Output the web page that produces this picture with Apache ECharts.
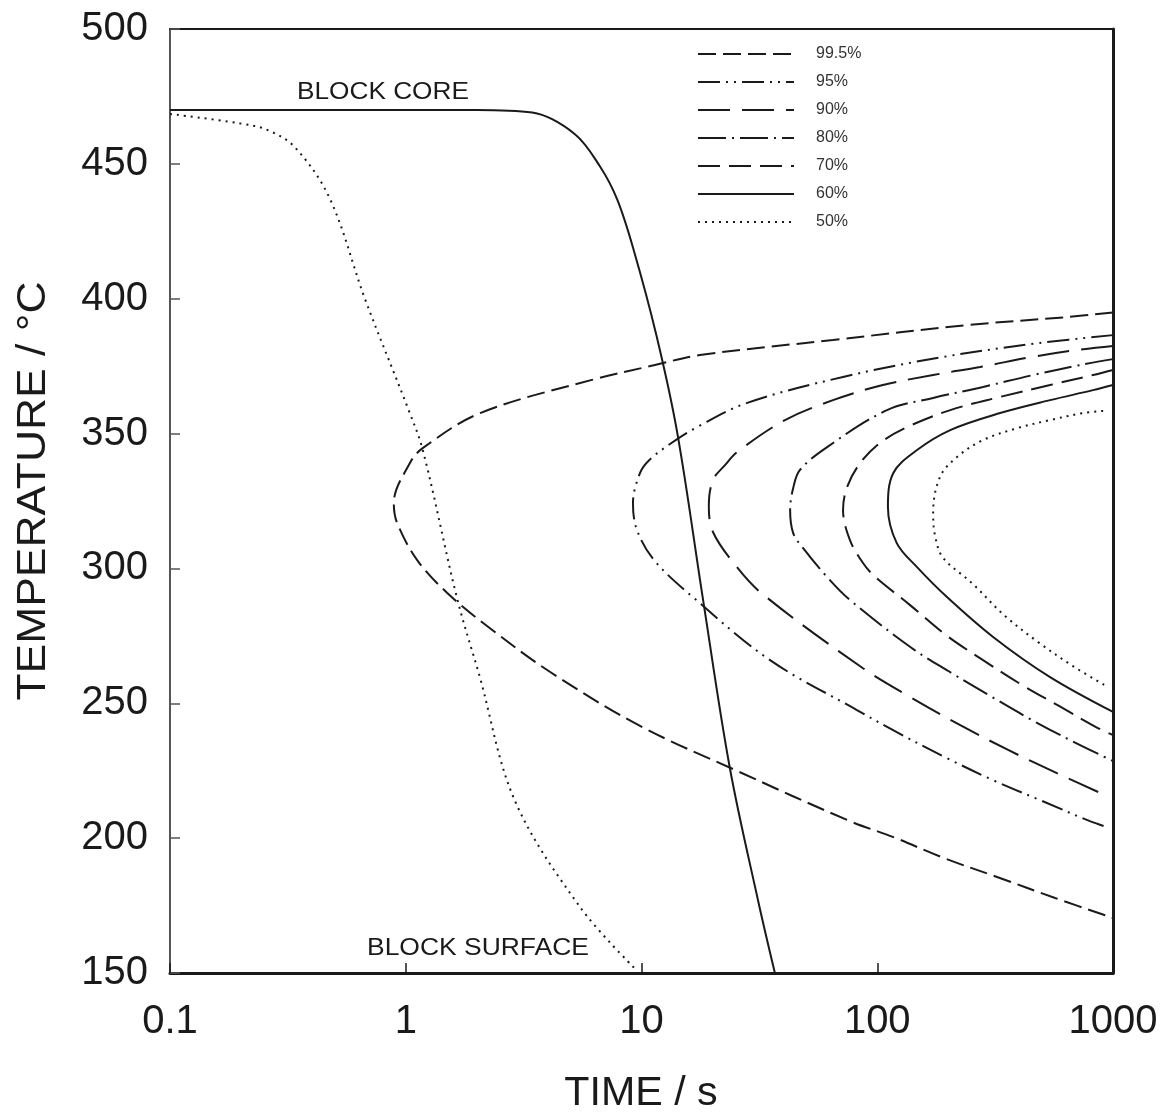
<!DOCTYPE html>
<html>
<head>
<meta charset="utf-8">
<title>TTT diagram with block cooling curves</title>
<script src="https://cdn.jsdelivr.net/npm/echarts@6/dist/echarts.min.js"></script>
<style>
  html, body { margin: 0; padding: 0; background: #fff; }
  #chart { width: 1164px; height: 1113px; }
</style>
</head>
<body>
<div id="chart"></div>
<script>
// Time axis tick labels (seconds, log scale)
const timeTicks = [0.1, 1, 10, 100, 1000];

// Cooling curves: [time s, temperature °C]
const blockCore = [
  [0.1, 470], [1, 470], [2, 470], [3.44, 469], [5.22, 461], [6.67, 449],
  [7.87, 437], [9.2, 419], [11.6, 386], [14.2, 350], [18.2, 289],
  [23.7, 226], [31.2, 177], [36.8, 150]
];
const blockSurface = [
  [0.1, 468.5], [0.198, 465], [0.26, 462.5], [0.34, 456], [0.477, 437],
  [0.671, 400], [1.02, 359.5], [1.18, 344], [1.65, 289], [2.05, 260.5],
  [2.9, 214], [5.48, 174.5], [9.29, 152]
];

// Transformation C-curves: upper branch (right to left), nose, lower branch
const curve995 = [
  [1000, 394.9], [638, 393.2], [240, 390.2], [64.9, 384.7], [17.7, 379.1],
  [11.4, 375.4], [6.22, 370], [2.07, 357.6], [1.18, 344.6], [1.04, 339],
  [0.89, 324.2], [0.92, 316.8], [1.12, 303], [1.5, 290.9], [2.27, 277.9],
  [4.1, 261.6], [9.86, 241.6], [24.9, 225.3], [76.6, 206.3], [117, 200.4],
  [192, 192.6], [322, 185.6], [568, 177.8], [1000, 170.4]
];
const curve95 = [
  [1000, 386.5], [490, 383.6], [190, 378.4], [71.6, 371], [27.9, 361.3],
  [17.2, 352.4], [13.4, 346.5], [10.8, 340.2], [9.86, 335.4], [9.2, 324.2],
  [9.57, 314.2], [11.3, 303.1], [16.5, 289.4], [35.1, 266],
  [82, 247.5], [121, 239.3], [194, 230], [310, 221.5], [500, 213.8],
  [798, 206.3], [952, 204]
];
const curve90 = [
  [1000, 382.5], [703, 381], [453, 378.4], [273, 374.7], [172.6, 371.7],
  [105.6, 368], [64.9, 362.4], [40.6, 355], [25.5, 343.2], [22.6, 338.3],
  [20.1, 332.8], [19.3, 323], [20.1, 313.5], [24.6, 302],
  [32.1, 291], [87, 263], [140, 252], [224, 242], [359, 232.7], [578, 224.1],
  [944, 215.6]
];
const curve80 = [
  [1000, 377.6], [724, 375.4], [458, 371.7], [281, 367.3], [172.6, 363.2],
  [110, 358.7], [61.3, 345], [47, 336.5], [44, 329.8], [42.7, 321.7], [44, 313.1],
  [48.4, 307.6], [61.3, 296.8], [76.6, 288.3], [140, 270.5], [207, 261.2],
  [307, 252.3], [453, 243.8], [670, 236], [1000, 228.6]
];
const curve70 = [
  [1000, 373.6], [822, 371.7], [541, 368], [332, 363.6], [204, 358.7],
  [134, 352.4], [102.7, 346.5], [84.5, 339], [74.5, 330.2], [71.6, 321.7],
  [76.6, 310.5], [87, 302], [97.6, 297], [137.8, 286.4], [197.6, 275],
  [281, 266], [411, 256.8], [590, 249], [847, 241.2], [1000, 238.2]
];
const curve60 = [
  [1000, 368], [822, 366.1], [541, 362.4], [332, 357.6], [204, 351.3],
  [147.5, 343.9], [117, 335.4], [111, 322.8], [121, 309.4], [147.5, 300.5],
  [197.6, 289.4], [310, 274.6], [541, 259.7], [1000, 246.8]
];
const curve50 = [
  [908, 358.4], [746, 357.6], [541, 355], [392, 352], [281, 347.6],
  [218, 341.3], [184.5, 333.9], [172.6, 320.5], [176, 312], [190, 304],
  [252, 294.6], [345, 282.7], [481, 272.7], [676, 263.8], [952, 256]
];

// Legend labels, top to bottom
const legendNames = ['99.5%', '95%', '90%', '80%', '70%', '60%', '50%'];

const chart = echarts.init(document.getElementById('chart'), null, { renderer: 'canvas' });

const FONT = 'Liberation Sans, Arial, sans-serif';
const INK = '#1a1a1a';

function curve(name, data, dash) {
  return {
    name: name,
    type: 'line',
    data: data,
    showSymbol: false,
    symbol: 'none',
    smooth: 0.35,
    clip: true,
    silent: true,
    color: INK,
    itemStyle: { color: INK },
    lineStyle: { color: INK, width: 2, type: dash },
    z: 3
  };
}

const option = {
  animation: false,
  backgroundColor: '#ffffff',
  grid: { left: 170, top: 29, right: 51, bottom: 140, containLabel: false },
  legend: {
    data: legendNames,
    orient: 'vertical',
    left: 692,
    top: 41,
    itemWidth: 96,
    itemHeight: 14,
    itemGap: 12,
    selectedMode: false,
    itemStyle: { opacity: 0 },
    textStyle: { fontFamily: FONT, fontSize: 16, color: '#333', lineHeight: 16, padding: [0, 0, 0, 17] }
  },
  xAxis: [
    {
      type: 'log',
      logBase: 10,
      min: timeTicks[0],
      max: timeTicks[timeTicks.length - 1],
      position: 'bottom',
      axisLine: { show: true, lineStyle: { color: INK, width: 3 } },
      axisTick: { show: true, inside: true, length: 10, lineStyle: { color: INK, width: 1.5 } },
      splitLine: { show: false },
      minorTick: { show: false },
      axisLabel: {
        margin: 29,
        fontFamily: FONT,
        fontSize: 40,
        color: INK,
        formatter: function (v) { return String(+(+v).toPrecision(6)); }
      }
    },
    {
      type: 'log',
      logBase: 10,
      min: timeTicks[0],
      max: timeTicks[timeTicks.length - 1],
      position: 'top',
      axisLine: { show: true, lineStyle: { color: INK, width: 2 } },
      axisTick: { show: false },
      axisLabel: { show: false },
      splitLine: { show: false }
    }
  ],
  yAxis: [
    {
      type: 'value',
      min: 150,
      max: 500,
      interval: 50,
      position: 'left',
      axisLine: { show: true, lineStyle: { color: '#555', width: 2 } },
      axisTick: { show: true, inside: true, length: 10, lineStyle: { color: '#555', width: 1.5 } },
      splitLine: { show: false },
      axisLabel: { margin: 22, fontFamily: FONT, fontSize: 40, color: INK }
    },
    {
      type: 'value',
      min: 150,
      max: 500,
      interval: 50,
      position: 'right',
      axisLine: { show: true, lineStyle: { color: INK, width: 3 } },
      axisTick: { show: false },
      axisLabel: { show: false },
      splitLine: { show: false }
    }
  ],
  graphic: [
    {
      type: 'text', x: 641, y: 1074, scaleX: 1.03,
      style: { text: 'TIME / s', font: '40px ' + FONT, fill: INK, align: 'center', verticalAlign: 'top' }
    },
    {
      type: 'text', x: 14, y: 491, rotation: Math.PI / 2, scaleX: 1.11,
      style: { text: 'TEMPERATURE / °C', font: '40px ' + FONT, fill: INK, align: 'center', verticalAlign: 'top' }
    },
    {
      type: 'text', x: 297, y: 81, scaleX: 1.14,
      style: { text: 'BLOCK CORE', font: '23px ' + FONT, fill: INK }
    },
    {
      type: 'text', x: 367, y: 937, scaleX: 1.15,
      style: { text: 'BLOCK SURFACE', font: '23px ' + FONT, fill: INK }
    }
  ],
  series: [
    curve('BLOCK CORE', blockCore, 'solid'),
    curve('BLOCK SURFACE', blockSurface, [2, 5]),
    curve('99.5%', curve995, [18, 7]),
    curve('95%', curve95, [22, 6, 2, 6, 2, 6]),
    curve('90%', curve90, [32, 12]),
    curve('80%', curve80, [28, 6, 2, 6]),
    curve('70%', curve70, [22, 9]),
    curve('60%', curve60, 'solid'),
    curve('50%', curve50, [2, 5])
  ]
};

chart.setOption(option);
</script>
</body>
</html>
